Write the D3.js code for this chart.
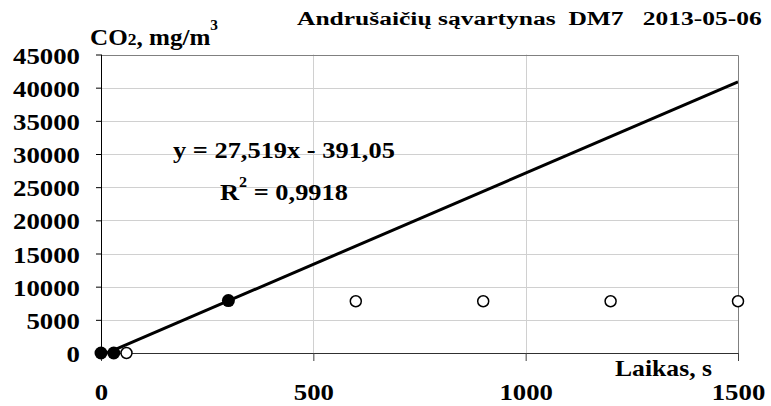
<!DOCTYPE html>
<html><head><meta charset="utf-8">
<script src="https://cdn.jsdelivr.net/npm/d3@7"></script>
<style>body{margin:0;background:#fff}svg{display:block}</style>
</head><body>
<script>
const xTicks = [0, 500, 1000, 1500];
const yTicks = [0, 5000, 10000, 15000, 20000, 25000, 30000, 35000, 40000, 45000];
const filledX = [0, 30, 300];
const filledY = [0, 0, 7908];
const openX = [60, 600, 900, 1200, 1500];
const openY = [0, 7800, 7800, 7800, 7800];
const slope = 27.519, intercept = -391.05;
const title = "Andrušaičių sąvartynas  DM7   2013-05-06";
const eqText = "y = 27,519x - 391,05";
const r2Text = " = 0,9918";
const xTitle = "Laikas, s";

const FONT = "Liberation Serif";
const W = 771, H = 406;
const m = {l: 101, r: 738, t: 54.5, b: 353};
const svg = d3.select("body").append("svg").attr("width", W).attr("height", H)
  .attr("font-family", FONT).attr("font-weight", "bold");
const x = d3.scaleLinear().domain([0, 1500]).range([m.l, m.r]);
const y = d3.scaleLinear().domain([0, 45000]).range([m.b, m.t]);

// grid
svg.append("g").selectAll("line").data(yTicks.slice(1, -1)).join("line")
  .attr("x1", m.l).attr("x2", m.r).attr("y1", d => Math.round(y(d)) + 0.5).attr("y2", d => Math.round(y(d)) + 0.5)
  .attr("stroke", "#d0d0d0").attr("stroke-width", 1);
svg.append("g").selectAll("line").data(xTicks.slice(1, -1)).join("line")
  .attr("y1", m.t).attr("y2", m.b).attr("x1", d => Math.round(x(d)) + 0.5).attr("x2", d => Math.round(x(d)) + 0.5)
  .attr("stroke", "#d0d0d0").attr("stroke-width", 1);
// border top/right
svg.append("path").attr("d", `M${m.l},${Math.round(m.t) + 0.5}H${m.r + 0.5}V${m.b}`).attr("fill", "none").attr("stroke", "#808080");

const fmt = d => String(d);
const TS = 23, TSCALE = 1.165;
const yAxis = svg.append("g").attr("transform", `translate(${m.l},0)`)
  .call(d3.axisLeft(y).tickValues(yTicks).tickFormat(fmt).tickSize(5).tickPadding(16))
  .attr("font-family", FONT).attr("font-size", TS).attr("font-weight", "bold");
yAxis.select(".domain").attr("stroke", "#000").attr("d", `M0.5,${m.b}V${m.t}`);
yAxis.selectAll(".tick text").attr("dy", null).attr("y", 8.5).attr("fill", "#000")
  .attr("transform", function () { const tx = +d3.select(this).attr("x"); return `translate(${tx},0) scale(${TSCALE},1) translate(${-tx},0)`; });

const xAxis = svg.append("g").attr("transform", `translate(0,${m.b})`)
  .call(d3.axisBottom(x).tickValues(xTicks).tickFormat(fmt).tickSize(8))
  .attr("font-family", FONT).attr("font-size", TS).attr("font-weight", "bold");
xAxis.select(".domain").attr("stroke", "#303030").attr("d", `M${m.l},0.5H${m.r}`);
xAxis.selectAll(".tick line").attr("stroke", "#404040");
xAxis.selectAll(".tick text").attr("dy", null).attr("y", 400 - m.b).attr("fill", "#000")
  .attr("transform", `scale(${TSCALE},1)`);

// trendline
svg.append("clipPath").attr("id", "clip").append("rect").attr("x", m.l).attr("y", m.t).attr("width", m.r - m.l).attr("height", m.b - m.t);
svg.append("line").attr("clip-path", "url(#clip)")
  .attr("x1", x(0)).attr("y1", y(intercept)).attr("x2", x(1500)).attr("y2", y(slope * 1500 + intercept))
  .attr("stroke", "#000").attr("stroke-width", 3);

// points
svg.append("g").selectAll("circle").data(openX.map((d, i) => [d, openY[i]])).join("circle")
  .attr("cx", d => x(d[0])).attr("cy", d => y(d[1])).attr("r", 5.5)
  .attr("fill", "#fff").attr("stroke", "#000").attr("stroke-width", 1.5);
svg.append("g").selectAll("circle").data(filledX.map((d, i) => [d, filledY[i]])).join("circle")
  .attr("cx", d => x(d[0])).attr("cy", d => y(d[1])).attr("r", 6.5)
  .attr("fill", "#000");

// fit text horizontally between left and right
function fit(sel, left, right) {
  const w = sel.node().getComputedTextLength();
  const s = (right - left) / w;
  sel.attr("x", 0).attr("transform", `translate(${left},0) scale(${s},1)`);
}
const t1 = svg.append("text").attr("y", 25).attr("font-size", 19).style("white-space", "pre").text(title);
fit(t1, 297, 762);
const yl = svg.append("text").attr("y", 45).attr("font-size", 23);
yl.append("tspan").text("CO");
yl.append("tspan").attr("font-size", 16).text("2");
yl.append("tspan").text(", mg/m");
yl.append("tspan").attr("font-size", 14).attr("dy", -15).text("3");
fit(yl, 90, 218);
const eq = svg.append("text").attr("y", 158.5).attr("font-size", 23).text(eqText);
fit(eq, 173, 395);
const r2 = svg.append("text").attr("y", 200).attr("font-size", 23);
r2.append("tspan").text("R");
r2.append("tspan").attr("font-size", 14).attr("dy", -13).text("2");
r2.append("tspan").attr("dy", 13).style("white-space", "pre").text(r2Text);
fit(r2, 220, 348);
const xt = svg.append("text").attr("y", 376.5).attr("font-size", 23).text(xTitle);
fit(xt, 615, 712);
</script>
</body></html>
